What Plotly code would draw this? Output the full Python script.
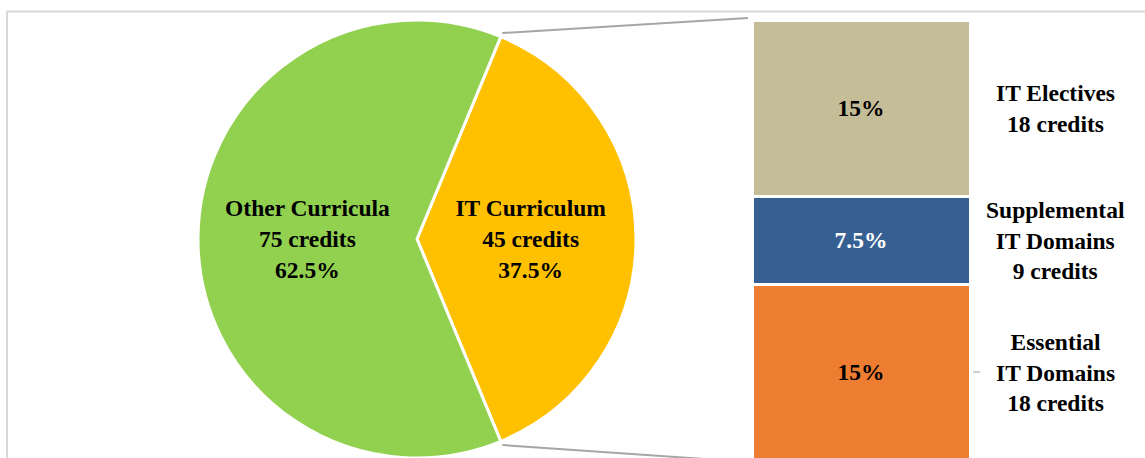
import math
import plotly.graph_objects as go

# ---- data ----
pie_labels = ["IT Curriculum", "Other Curricula"]
pie_credits = [45, 75]
pie_colors = ["#FFC000", "#92D050"]

bar_labels = ["Essential<br>IT Domains", "Supplemental<br>IT Domains", "IT Electives"]
bar_credits = [18, 9, 18]
bar_colors = ["#ED7D31", "#376092", "#C4BD97"]
bar_text_colors = ["#000000", "#FFFFFF", "#000000"]

total = sum(pie_credits)
bar_pcts = [c / total * 100 for c in bar_credits]

W, H = 1145, 458
FONT = "Liberation Serif"
FS = 23.5

# ---- geometry (pixels) ----
cx, cy_top, R = 417, 239, 219          # pie centre / radius (from top)
bar_x0, bar_x1 = 752, 970
bar_bottom_top = 460                   # bar bottom (px from top)
bar_top_top = 20                       # bar top (px from top)

fig = go.Figure()

fig.add_trace(go.Pie(
    labels=pie_labels,
    values=pie_credits,
    customdata=pie_credits,
    sort=False,
    direction="clockwise",
    rotation=90 - 180 * pie_credits[0] / total,
    marker=dict(colors=pie_colors, line=dict(color="white", width=3)),
    texttemplate="<b>%{label}<br>%{customdata} credits<br>%{percent:.1%}</b>",
    textposition="inside",
    insidetextorientation="horizontal",
    textfont=dict(family=FONT, size=FS, color="black"),
    hoverinfo="skip",
    domain=dict(x=[(cx - R) / W, (cx + R) / W],
                y=[(H - cy_top - R) / H, (H - cy_top + R) / H]),
    showlegend=False,
))

base = 0
for lab, cr, pct, col, tcol in zip(bar_labels, bar_credits, bar_pcts, bar_colors, bar_text_colors):
    fig.add_trace(go.Bar(
        x=[0], y=[pct], base=[base],
        marker=dict(color=col, line=dict(color="white", width=3)),
        text=[f"<b>{pct:g}%</b>"],
        textposition="inside", insidetextanchor="middle",
        textfont=dict(family=FONT, size=FS, color=tcol),
        width=1, showlegend=False, hoverinfo="skip",
        xaxis="x", yaxis="y",
    ))
    fig.add_annotation(
        x=1055 / W, xref="paper", xanchor="center",
        y=base + pct / 2, yref="y", yanchor="middle",
        text=f"<b>{lab}<br>{cr} credits</b>", showarrow=False,
        font=dict(family=FONT, size=FS, color="black"), align="center",
    )
    base += pct

scale = (bar_bottom_top - bar_top_top) / base   # px per unit
ymin = (bar_bottom_top - H) / scale
ymax = ymin + H / scale

fig.update_layout(
    width=W, height=H,
    margin=dict(l=0, r=0, t=0, b=0),
    paper_bgcolor="white", plot_bgcolor="rgba(0,0,0,0)",
    barmode="stack",
    xaxis=dict(domain=[bar_x0 / W, bar_x1 / W], range=[-0.5, 0.5], visible=False),
    yaxis=dict(domain=[0, 1], range=[ymin, ymax], visible=False),
)

# connector lines from the pie slice edges to the bar
half = math.pi * pie_credits[0] / total
tx = cx + (R + 4) * math.cos(half)
ty = cy_top - (R + 4) * math.sin(half)
by = cy_top + (R + 4) * math.sin(half)
shapes = [
    dict(type="line", xref="paper", yref="paper",
         x0=tx / W, y0=1 - ty / H, x1=(bar_x0 - 4) / W, y1=1 - (bar_top_top - 2) / H,
         line=dict(color="#A6A6A6", width=2)),
    dict(type="line", xref="paper", yref="paper",
         x0=tx / W, y0=1 - by / H, x1=(bar_x0 - 4) / W, y1=1 - (bar_bottom_top + 2) / H,
         line=dict(color="#A6A6A6", width=2)),
    dict(type="line", xref="paper", yref="y",
         x0=(bar_x1 + 3) / W, x1=(bar_x1 + 10) / W, y0=bar_pcts[0] / 2, y1=bar_pcts[0] / 2,
         line=dict(color="#BFBFBF", width=1.5)),
    dict(type="rect", xref="paper", yref="paper",
         x0=7 / W, x1=1.01, y0=-0.01, y1=1 - 11.5 / H,
         line=dict(color="#D9D9D9", width=2), fillcolor="rgba(0,0,0,0)", layer="below"),
]
fig.update_layout(shapes=shapes)

fig.write_html("out.html",
               config={"displayModeBar": False, "staticPlot": True},
               post_script="document.body.style.margin='0px';document.body.style.overflow='hidden';")
